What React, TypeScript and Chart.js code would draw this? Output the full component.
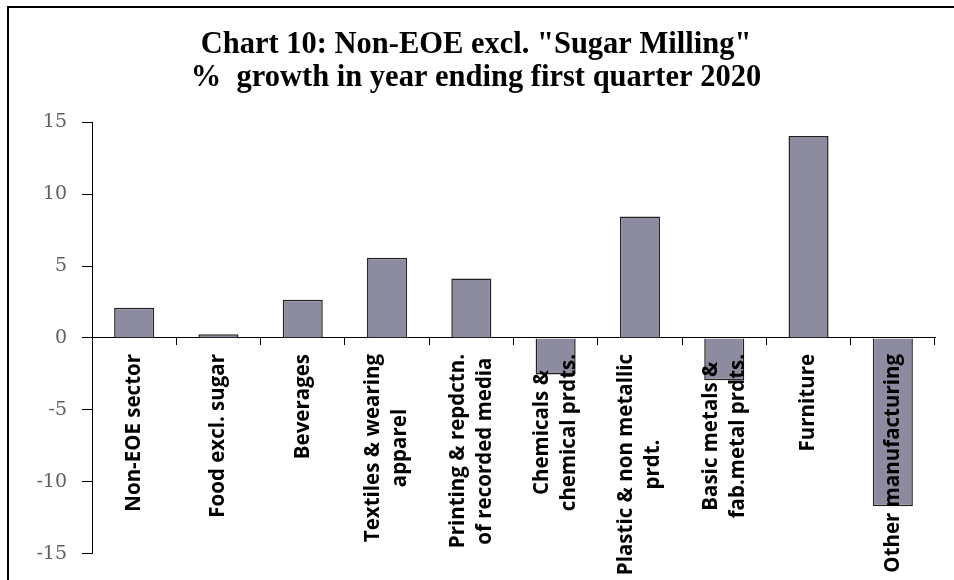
import React, { useEffect, useRef } from "react";
import { Chart, registerables } from "chart.js";

Chart.register(...registerables);

const titleLines = ['Chart 10: Non-EOE excl. "Sugar Milling"', "%  growth in year ending first quarter 2020"];

const categories: string[][] = [
  ["Non-EOE sector"],
  ["Food excl. sugar"],
  ["Beverages"],
  ["Textiles & wearing", "apparel"],
  ["Printing & repdctn.", "of recorded media"],
  ["Chemicals &", "chemical prdts."],
  ["Plastic & non metallic", "prdt."],
  ["Basic metals &", "fab.metal prdts."],
  ["Furniture"],
  ["Other manufacturing"],
];

const growth = [2.1, 0.25, 2.65, 5.57, 4.14, -2.55, 8.45, -2.95, 14.05, -11.7];

const yMin = -15;
const yMax = 15;
const yStep = 5;

const LABEL_FONT = 'bold 20.5px "Open Sans"';
const LABEL_GAP = 16;
const LABEL_LINE = 27;

const categoryLabelPlugin = {
  id: "categoryLabels",
  afterDatasetsDraw(chart: any) {
    const { ctx } = chart;
    const x = chart.scales.x;
    const y = chart.scales.y;
    const zero = y.getPixelForValue(0);
    ctx.save();
    ctx.font = LABEL_FONT;
    ctx.fillStyle = "#000";
    ctx.textAlign = "center";
    ctx.textBaseline = "middle";
    categories.forEach((lines, i) => {
      const cx = x.getPixelForValue(i);
      const maxW = Math.max(...lines.map((l) => ctx.measureText(l).width));
      const cy = zero + LABEL_GAP + maxW / 2;
      lines.forEach((line, j) => {
        const lx = cx + (j - (lines.length - 1) / 2) * LABEL_LINE;
        ctx.save();
        ctx.translate(lx, cy);
        ctx.rotate(-Math.PI / 2);
        ctx.fillText(line, 0, 0);
        ctx.restore();
      });
    });
    ctx.restore();
  },
};

export default function App() {
  const ref = useRef<HTMLCanvasElement | null>(null);

  useEffect(() => {
    if (!ref.current) return;
    const chart = new Chart(ref.current, {
      type: "bar",
      data: {
        labels: categories.map((c) => c.join(" ")),
        datasets: [
          {
            data: growth,
            backgroundColor: "#8d8b9f",
            borderColor: "#222",
            borderWidth: 1.5,
            barPercentage: 0.475,
            categoryPercentage: 1,
          },
        ],
      },
      options: {
        animation: false,
        responsive: false,
        devicePixelRatio: 1,
        layout: { padding: { left: 17, right: 19, top: 0, bottom: 14 } },
        plugins: {
          legend: { display: false },
          tooltip: { enabled: false },
          title: {
            display: true,
            text: titleLines,
            color: "#000",
            font: { family: '"Liberation Serif"', size: 30.5, weight: "bold", lineHeight: 1.08 },
            padding: { top: 29, bottom: 27.4 },
          },
        },
        scales: {
          x: {
            position: { y: 0 } as any,
            grid: {
              display: true,
              drawOnChartArea: false,
              drawTicks: true,
              tickLength: 7,
              color: "#000",
              offset: true,
            },
            border: { display: true, color: "#000", width: 1 },
            ticks: { display: false },
          },
          y: {
            min: yMin,
            max: yMax,
            afterFit: (scale: any) => {
              scale.width = 75;
            },
            grid: {
              display: true,
              drawOnChartArea: false,
              drawTicks: true,
              tickLength: 10,
              color: "#000",
            },
            border: { display: true, color: "#000", width: 1 },
            ticks: {
              stepSize: yStep,
              color: "#606060",
              padding: 15,
              font: { family: '"DejaVu Serif"', size: 19 },
            },
          },
        },
      },
      plugins: [categoryLabelPlugin],
    });
    return () => chart.destroy();
  }, []);

  return (
    <div
      style={{
        position: "fixed",
        left: 0,
        top: 0,
        width: 954,
        height: 580,
        overflow: "hidden",
        background: "#fff",
      }}
    >
      <div
        style={{
          position: "absolute",
          left: 7,
          top: 6,
          width: 1000,
          height: 700,
          borderLeft: "2px solid #000",
          borderTop: "2px solid #000",
        }}
      />
      <canvas
        ref={ref}
        width={954}
        height={580}
        style={{ position: "absolute", left: 0, top: 0, width: 954, height: 580 }}
      />
    </div>
  );
}
